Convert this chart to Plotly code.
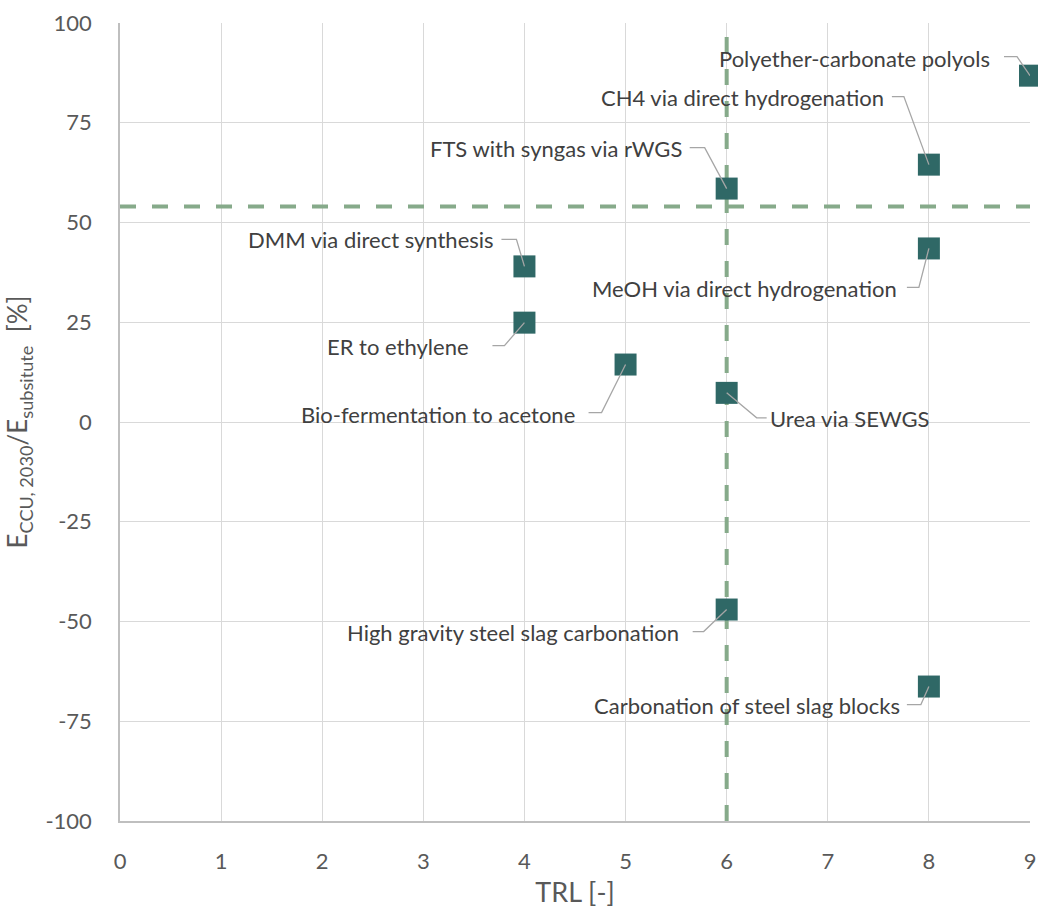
import plotly.graph_objects as go

# ---- data ----
labels = [
    "Polyether-carbonate polyols",
    "CH4 via direct hydrogenation",
    "FTS with syngas via rWGS",
    "MeOH via direct hydrogenation",
    "DMM via direct synthesis",
    "ER to ethylene",
    "Bio-fermentation to acetone",
    "Urea via SEWGS",
    "High gravity steel slag carbonation",
    "Carbonation of steel slag blocks",
]
trl = [9, 8, 6, 8, 4, 4, 5, 6, 6, 8]
ratio = [86.8, 64.5, 58.5, 43.5, 39.0, 24.9, 14.4, 7.3, -47.0, -66.3]

threshold_trl = 6
threshold_ratio = 54.0

x_ticks = [0, 1, 2, 3, 4, 5, 6, 7, 8, 9]
y_ticks = [-100, -75, -50, -25, 0, 25, 50, 75, 100]
y_ticktext = ["-100", "-75", "-50", "-25", "0", "25", "50", "75", "100"]

# ---- label placement (pixels, relative to marker centre; dy positive = down) ----
# (elbow dx, elbow dy, horizontal leader length, text dx, text dy, anchor)
placement = [
    (-13, -19, -13, -38, -17, "right"),
    (-25, -68, -12, -43, -67, "right"),
    (-22, -41, -15, -43, -40, "right"),
    (-10, 39, -12, -30, 40, "right"),
    (-8, -27, -15, -28, -27, "right"),
    (-20, 23, -12, -53, 24, "right"),
    (-24, 48, -13, -49, 50, "right"),
    (30, 25, 10, 41, 26, "left"),
    (-23, 22, -11, -46, 23, "right"),
    (-8, 18, -14, -27, 19, "right"),
]

FONT = "Lato, Calibri, Carlito, sans-serif"
MARKER = "#2F6866"
DASH = "#86AA8A"
LEADER = "#A6A6A6"
TXT = "#404040"
AX = "#595959"

fig = go.Figure()

# threshold lines
fig.add_trace(go.Scatter(
    x=[x_ticks[0], x_ticks[-1]], y=[threshold_ratio, threshold_ratio],
    mode="lines", line=dict(color=DASH, width=4, dash="16px,16px"),
    hoverinfo="skip", showlegend=False))
fig.add_trace(go.Scatter(
    x=[threshold_trl, threshold_trl], y=[y_ticks[0], y_ticks[-1]],
    mode="lines", line=dict(color=DASH, width=4, dash="16px,16px"),
    hoverinfo="skip", showlegend=False))

# points
fig.add_trace(go.Scatter(
    x=trl, y=ratio, mode="markers", text=labels,
    marker=dict(symbol="square", size=22, color=MARKER),
    cliponaxis=False, showlegend=False))

annotations = []
shapes = []
for xv, yv, lab, (ex, ey, hl, tx, ty, anc) in zip(trl, ratio, labels, placement):
    shapes.append(dict(
        type="path", layer="above",
        xref="x", yref="y", xsizemode="pixel", ysizemode="pixel",
        xanchor=xv, yanchor=yv,
        path=f"M0,0 L{ex},{-ey} L{ex + hl},{-ey}",
        line=dict(color=LEADER, width=1.3)))
    annotations.append(dict(
        x=xv, y=yv, xref="x", yref="y", text=lab, showarrow=False,
        xanchor=anc, yanchor="middle", xshift=tx, yshift=-ty,
        font=dict(family=FONT, size=22, color=TXT)))

fig.update_layout(
    width=1038, height=913, autosize=False,
    margin=dict(l=120, r=8, t=23, b=92),
    paper_bgcolor="white", plot_bgcolor="white",
    font=dict(family=FONT, color=AX, size=22),
    annotations=annotations,
    shapes=shapes,
    xaxis=dict(
        range=[x_ticks[0], x_ticks[-1]], tickvals=x_ticks,
        showgrid=True, gridcolor="#D9D9D9", gridwidth=1.3,
        showline=True, linecolor="#BFBFBF", linewidth=1.5,
        zeroline=False, ticks="", ticklabelstandoff=20, automargin=False,
        tickfont=dict(size=22, color=AX),
        title=dict(text="TRL [-]", font=dict(size=27, color=AX), standoff=10),
    ),
    yaxis=dict(
        range=[y_ticks[0], y_ticks[-1]], tickvals=y_ticks, ticktext=y_ticktext,
        showgrid=True, gridcolor="#D9D9D9", gridwidth=1.3,
        showline=True, linecolor="#BFBFBF", linewidth=1.5,
        zeroline=False, ticks="", ticklabelstandoff=22, automargin=False,
        tickfont=dict(size=22, color=AX),
        title=dict(text="E<sub>CCU, 2030</sub>/E<sub>subsitute</sub>  [%]",
                   font=dict(size=26, color=AX), standoff=10),
    ),
)

fig.write_html("out.html")
